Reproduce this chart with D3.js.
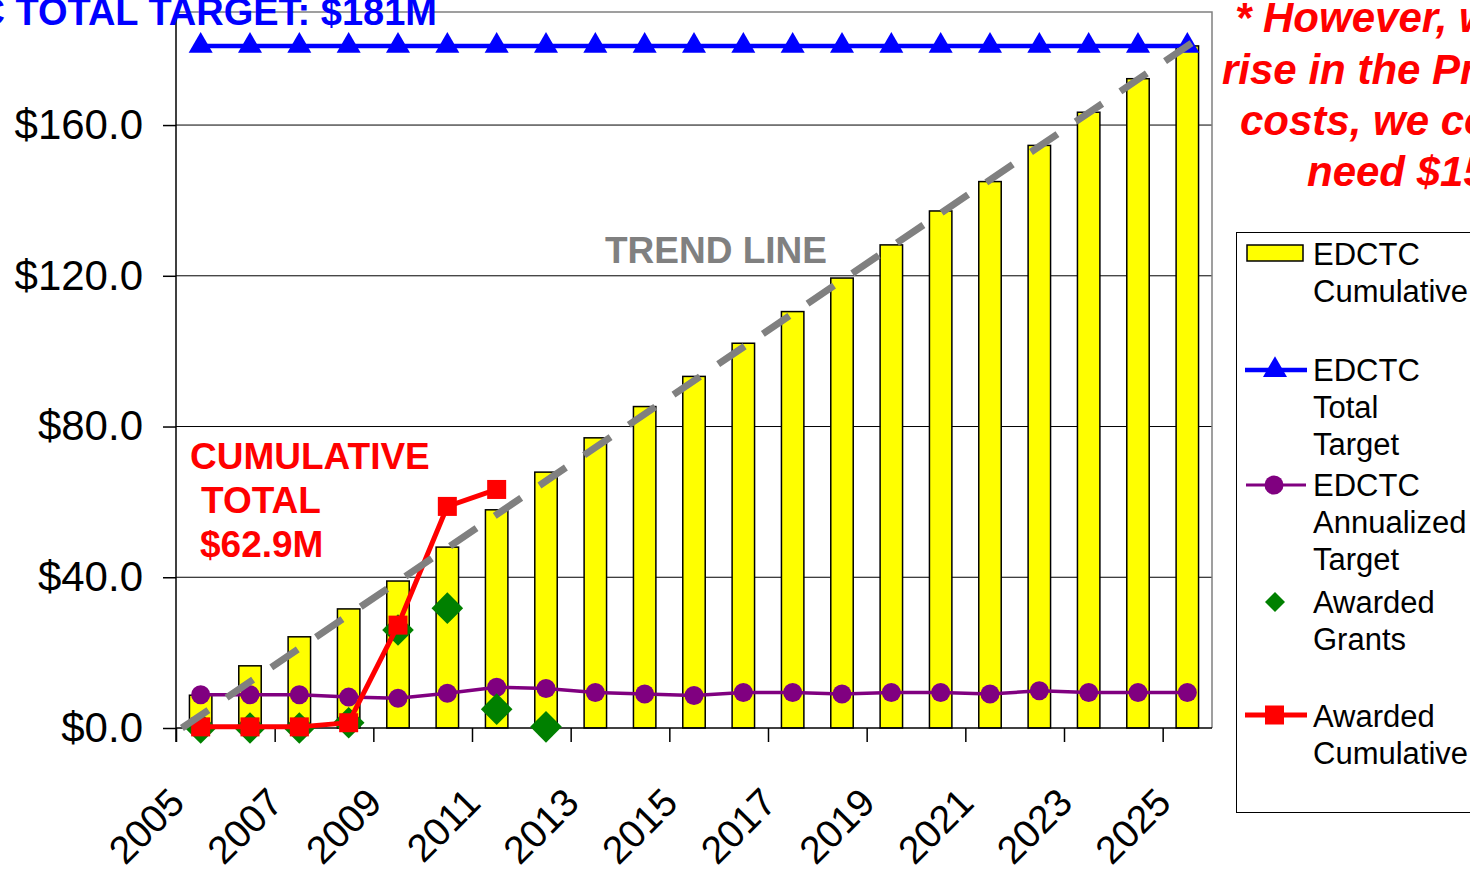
<!DOCTYPE html>
<html>
<head>
  <meta charset="UTF-8">
  <title>EDCTC Cumulative vs Awarded</title>
  <script src="https://d3js.org/d3.v7.min.js"></script>
  <style>
    body {
      margin: 0;
      padding: 0;
      background: #fff;
      overflow: hidden;
    }
    svg {
      display: block;
      font-family: "Liberation Sans", Arial, sans-serif;
    }
  </style>
</head>
<body>

<script>
  // ---- data ----
  const years = [2005, 2006, 2007, 2008, 2009, 2010, 2011, 2012, 2013, 2014, 2015,
                 2016, 2017, 2018, 2019, 2020, 2021, 2022, 2023, 2024, 2025];
  const edctcCumulative = [8.7, 16.5, 24.2, 31.6, 39.0, 48.0, 57.9, 67.9, 77.0, 85.3, 93.3,
                           102.1, 110.5, 119.4, 128.2, 137.2, 145.0, 154.6, 163.4, 172.3, 181.0];
  const edctcTotalTarget = [181, 181, 181, 181, 181, 181, 181, 181, 181, 181, 181,
                            181, 181, 181, 181, 181, 181, 181, 181, 181, 181];
  const edctcAnnualized = [8.8, 8.8, 8.8, 8.2, 7.9, 9.2, 10.8, 10.5, 9.4, 9.0, 8.6,
                           9.4, 9.4, 9.0, 9.4, 9.4, 9.0, 9.9, 9.4, 9.4, 9.4];
  const grantYears = [2005, 2006, 2007, 2008, 2009, 2010, 2011, 2012];
  const awardedGrants = [0, 0, 0, 1.4, 26.0, 31.8, 5.0, 0.3];
  const awardedYears = [2005, 2006, 2007, 2008, 2009, 2010, 2011];
  const awardedCumulative = [0.3, 0.3, 0.3, 1.4, 27.3, 58.8, 63.3];
  // trend line end points (year position, value)
  const trendYears = [2004.62, 2025.26];
  const trendValues = [0, 183.3];

  const yTicks = [0, 40, 80, 120, 160];
  const xTickYears = [2005, 2007, 2009, 2011, 2013, 2015, 2017, 2019, 2021, 2023, 2025];

  const width = 1470;
  const height = 872;
  const plotL = 176, plotR = 1212, plotT = 12, plotB = 728;

  const svg = d3.select("body")
    .append("svg")
    .attr("width", width)
    .attr("height", height);

  svg.append("rect")
    .attr("width", width)
    .attr("height", height)
    .attr("fill", "#fff");

  const x = d3.scaleBand()
    .domain(years)
    .range([plotL, plotR]);
  const bw = x.bandwidth();
  const cx = d => x(d) + bw / 2;

  const xEdge = d3.scaleLinear()
    .domain([2005, 2026])
    .range([plotL, plotR]);

  const xPos = d3.scaleLinear()
    .domain([2005, 2025])
    .range([cx(2005), cx(2025)]);

  const y = d3.scaleLinear()
    .domain([0, 190])
    .range([plotB, plotT]);

  // gridlines
  svg.append("g")
    .selectAll("line")
    .data(yTicks.slice(1))
    .join("line")
    .attr("x1", plotL)
    .attr("x2", plotR)
    .attr("y1", d => y(d))
    .attr("y2", d => y(d))
    .attr("stroke", "#000")
    .attr("stroke-width", 1);

  // plot border (top / right)
  svg.append("path")
    .attr("d", `M${plotL},${plotT}H${plotR}V${plotB}`)
    .attr("fill", "none")
    .attr("stroke", "#808080")
    .attr("stroke-width", 1.5);

  // bars
  const barW = bw * 0.455;
  svg.append("g")
    .selectAll("rect")
    .data(years)
    .join("rect")
    .attr("x", (d) => cx(d) - barW / 2)
    .attr("y", (d, i) => y(edctcCumulative[i]))
    .attr("width", barW)
    .attr("height", (d, i) => y(0) - y(edctcCumulative[i]))
    .attr("fill", "#ffff00")
    .attr("stroke", "#000")
    .attr("stroke-width", 1.5);

  // y axis
  const yAxis = svg.append("g")
    .attr("transform", `translate(${plotL},0)`)
    .call(d3.axisLeft(y)
      .tickValues(yTicks)
      .tickSize(13)
      .tickPadding(20)
      .tickFormat(d => "$" + d3.format(".1f")(d)));
  yAxis.select(".domain").remove();
  yAxis.selectAll("line").attr("stroke", "#000").attr("stroke-width", 1.5);
  yAxis.selectAll("text")
    .attr("font-size", 42)
    .attr("font-family", "'Liberation Sans', Arial, sans-serif")
    .attr("fill", "#000");
  svg.append("line")
    .attr("x1", plotL).attr("x2", plotL)
    .attr("y1", plotT).attr("y2", plotB + 14)
    .attr("stroke", "#000")
    .attr("stroke-width", 1.5);

  // x axis
  const xAxis = svg.append("g")
    .attr("transform", `translate(0,${plotB})`)
    .call(d3.axisBottom(xEdge)
      .tickValues(xTickYears)
      .tickSize(14)
      .tickFormat(d3.format("d")));
  xAxis.select(".domain")
    .attr("d", `M${plotL},0H${plotR}`)
    .attr("stroke", "#000")
    .attr("stroke-width", 1.5);
  xAxis.selectAll("line").attr("stroke", "#000").attr("stroke-width", 1.5);
  xAxis.selectAll("text")
    .attr("font-size", 39)
    .attr("font-family", "'Liberation Sans', Arial, sans-serif")
    .attr("fill", "#000")
    .attr("text-anchor", "end")
    .attr("x", 0)
    .attr("y", 0)
    .attr("dy", 0)
    .attr("transform", "translate(10,77) rotate(-45)");

  // EDCTC total target (blue)
  const line = d3.line()
    .x(d => cx(d[0]))
    .y(d => y(d[1]));

  svg.append("path")
    .datum(years.map((d, i) => [d, edctcTotalTarget[i]]))
    .attr("d", line)
    .attr("fill", "none")
    .attr("stroke", "#0000ff")
    .attr("stroke-width", 4.5);

  const tri = d3.symbol().type(d3.symbolTriangle).size(250);
  svg.append("g")
    .selectAll("path")
    .data(years)
    .join("path")
    .attr("d", tri)
    .attr("transform", (d, i) => `translate(${cx(d)},${y(edctcTotalTarget[i])})`)
    .attr("fill", "#0000ff");

  // annualized target (purple)
  svg.append("path")
    .datum(years.map((d, i) => [d, edctcAnnualized[i]]))
    .attr("d", line)
    .attr("fill", "none")
    .attr("stroke", "#800080")
    .attr("stroke-width", 3.5);

  svg.append("g")
    .selectAll("circle")
    .data(years)
    .join("circle")
    .attr("cx", d => cx(d))
    .attr("cy", (d, i) => y(edctcAnnualized[i]))
    .attr("r", 9.5)
    .attr("fill", "#800080");

  // awarded grants (green diamonds)
  const diamond = d3.symbol().type(d3.symbolSquare).size(500);
  svg.append("g")
    .selectAll("path")
    .data(grantYears)
    .join("path")
    .attr("d", diamond)
    .attr("transform", (d, i) => `translate(${cx(d)},${y(awardedGrants[i])}) rotate(45)`)
    .attr("fill", "#008000");

  // awarded cumulative (red)
  svg.append("path")
    .datum(awardedYears.map((d, i) => [d, awardedCumulative[i]]))
    .attr("d", line)
    .attr("fill", "none")
    .attr("stroke", "#ff0000")
    .attr("stroke-width", 5);

  svg.append("g")
    .selectAll("rect")
    .data(awardedYears)
    .join("rect")
    .attr("x", d => cx(d) - 9.5)
    .attr("y", (d, i) => y(awardedCumulative[i]) - 9.5)
    .attr("width", 19)
    .attr("height", 19)
    .attr("fill", "#ff0000");

  // trend line
  svg.append("path")
    .datum(trendYears.map((d, i) => [d, trendValues[i]]))
    .attr("d", d3.line().x(d => xPos(d[0])).y(d => y(d[1])))
    .attr("fill", "none")
    .attr("stroke", "#808080")
    .attr("stroke-width", 7)
    .attr("stroke-dasharray", "32,22");

  // annotations
  svg.append("text")
    .attr("x", 437)
    .attr("y", 25)
    .attr("text-anchor", "end")
    .attr("font-size", 38)
    .attr("font-weight", "bold")
    .attr("fill", "#0000ff")
    .text("EDCTC TOTAL TARGET: $181M");

  svg.append("text")
    .attr("x", 605)
    .attr("y", 263)
    .attr("font-size", 37)
    .attr("font-weight", "bold")
    .attr("fill", "#808080")
    .text("TREND LINE");

  const cumNote = [["CUMULATIVE", 190, 469], ["TOTAL", 201, 513], ["$62.9M", 200, 557]];
  svg.append("g")
    .selectAll("text")
    .data(cumNote)
    .join("text")
    .attr("x", d => d[1])
    .attr("y", d => d[2])
    .attr("font-size", 37)
    .attr("font-weight", "bold")
    .attr("fill", "#ff0000")
    .text(d => d[0]);

  const sideNote = [["* However, with the", 1235, 32], ["rise in the Project", 1222, 84],
                    ["costs, we could", 1240, 135], ["need $150M", 1307, 186]];
  svg.append("g")
    .selectAll("text")
    .data(sideNote)
    .join("text")
    .attr("x", d => d[1])
    .attr("y", d => d[2])
    .attr("font-size", 42)
    .attr("font-weight", "bold")
    .attr("font-style", "italic")
    .attr("fill", "#ff0000")
    .text(d => d[0]);

  // legend
  const lg = svg.append("g");
  lg.append("rect")
    .attr("x", 1236.5)
    .attr("y", 232.5)
    .attr("width", 260)
    .attr("height", 580)
    .attr("fill", "#fff")
    .attr("stroke", "#000")
    .attr("stroke-width", 1);

  const legendItems = [
    { lines: ["EDCTC", "Cumulative"], y: 265, kind: "bar", my: 253 },
    { lines: ["EDCTC", "Total", "Target"], y: 381, kind: "blue", my: 370 },
    { lines: ["EDCTC", "Annualized", "Target"], y: 496, kind: "purple", my: 485 },
    { lines: ["Awarded", "Grants"], y: 613, kind: "green", my: 602 },
    { lines: ["Awarded", "Cumulative"], y: 727, kind: "red", my: 715 }
  ];

  legendItems.forEach(it => {
    const t = lg.append("text")
      .attr("font-size", 31)
      .attr("fill", "#000");
    it.lines.forEach((s, k) => {
      t.append("tspan").attr("x", 1313).attr("y", it.y + k * 37).text(s);
    });
    if (it.kind === "bar") {
      lg.append("rect").attr("x", 1247).attr("y", it.my - 8).attr("width", 56).attr("height", 16)
        .attr("fill", "#ffff00").attr("stroke", "#000").attr("stroke-width", 1.5);
    } else if (it.kind === "blue") {
      lg.append("line").attr("x1", 1245).attr("x2", 1307).attr("y1", it.my).attr("y2", it.my)
        .attr("stroke", "#0000ff").attr("stroke-width", 4.5);
      lg.append("path").attr("d", tri).attr("transform", `translate(1275,${it.my})`).attr("fill", "#0000ff");
    } else if (it.kind === "purple") {
      lg.append("line").attr("x1", 1246).attr("x2", 1306).attr("y1", it.my).attr("y2", it.my)
        .attr("stroke", "#800080").attr("stroke-width", 3);
      lg.append("circle").attr("cx", 1274).attr("cy", it.my).attr("r", 9.5).attr("fill", "#800080");
    } else if (it.kind === "green") {
      lg.append("path").attr("d", d3.symbol().type(d3.symbolSquare).size(200))
        .attr("transform", `translate(1275,${it.my}) rotate(45)`).attr("fill", "#008000");
    } else {
      lg.append("line").attr("x1", 1245).attr("x2", 1307).attr("y1", it.my).attr("y2", it.my)
        .attr("stroke", "#ff0000").attr("stroke-width", 5);
      lg.append("rect").attr("x", 1265).attr("y", it.my - 9.5).attr("width", 19).attr("height", 19)
        .attr("fill", "#ff0000");
    }
  });
</script>

</body>
</html>
